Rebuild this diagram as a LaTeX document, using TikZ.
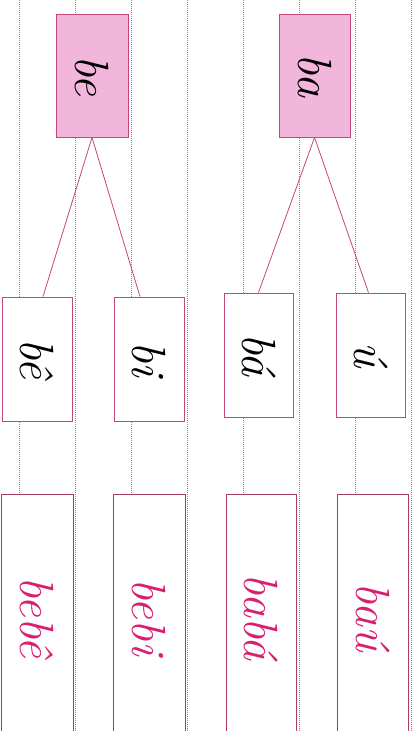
\documentclass[tikz,border=0pt]{standalone}
\usepackage{tikz}
\usetikzlibrary{positioning}
\definecolor{sy-fill}{HTML}{F2B6DA}
\definecolor{sy-edge}{HTML}{C4467E}
\definecolor{sy-word}{HTML}{D81E70}
\definecolor{sy-guide}{HTML}{8A8A8A}
\newcommand{\cursiva}{\itshape\fontsize{48}{52}\selectfont}

\begin{document}
\begin{tikzpicture}[x=1pt, y=-1pt, thick,
    syllab/.style={draw=sy-edge, fill=sy-fill, line width=0.9pt, inner sep=0pt, font=\cursiva, text=black, rotate=-90},
    piece/.style={draw=sy-edge, fill=white, line width=0.9pt, inner sep=0pt, font=\cursiva, text=black, rotate=-90},
    wordbox/.style={draw=sy-edge!85!black, fill=white, line width=0.9pt, inner sep=0pt, font=\cursiva, text=sy-word, rotate=-90},
    branch/.style={sy-edge, line width=0.8pt}]
    \clip (0,0) rectangle (416,731);
    \fill[white] (0,0) rectangle (416,731);

    % --- Guide lines ---
    \foreach \x in {19,75,...,411}
        \draw[sy-guide, line width=0.4pt, dash pattern=on 1.2pt off 0.8pt] (\x,0) -- (\x,731);

    % --- Syllables ---
    \node[syllab, minimum width=123pt, minimum height=72pt] (be) at (92,75.5) {be};
    \node[syllab, minimum width=123pt, minimum height=71pt] (ba) at (314.5,75.5) {ba};

    % --- Pieces ---
    \node[piece, minimum width=124pt, minimum height=70pt] (bee) at (37,359) {bê};
    \node[piece, minimum width=124pt, minimum height=70pt] (bi) at (149,359) {bi};
    \node[piece, minimum width=124pt, minimum height=69pt] (baa) at (258.5,355) {bá};
    \node[piece, minimum width=124pt, minimum height=69pt] (uu) at (370.5,355) {ú};

    % --- Words ---
    \node[wordbox, minimum width=245pt, minimum height=72pt] (bebee) at (37,617) {bebê};
    \node[wordbox, minimum width=245pt, minimum height=72pt] (bebi) at (149,617) {bebi};
    \node[wordbox, minimum width=246pt, minimum height=70pt] (babaa) at (261,617) {babá};
    \node[wordbox, minimum width=246pt, minimum height=71pt] (bauu) at (372.5,617) {baú};

    % --- Branches ---
    \draw[branch] (be.east) -- ([xshift=6pt]bee.west);
    \draw[branch] (be.east) -- ([xshift=-9pt]bi.west);
    \draw[branch] (ba.east) -- (baa.west);
    \draw[branch] (ba.east) -- ([xshift=-2pt]uu.west);
\end{tikzpicture}
\end{document}
